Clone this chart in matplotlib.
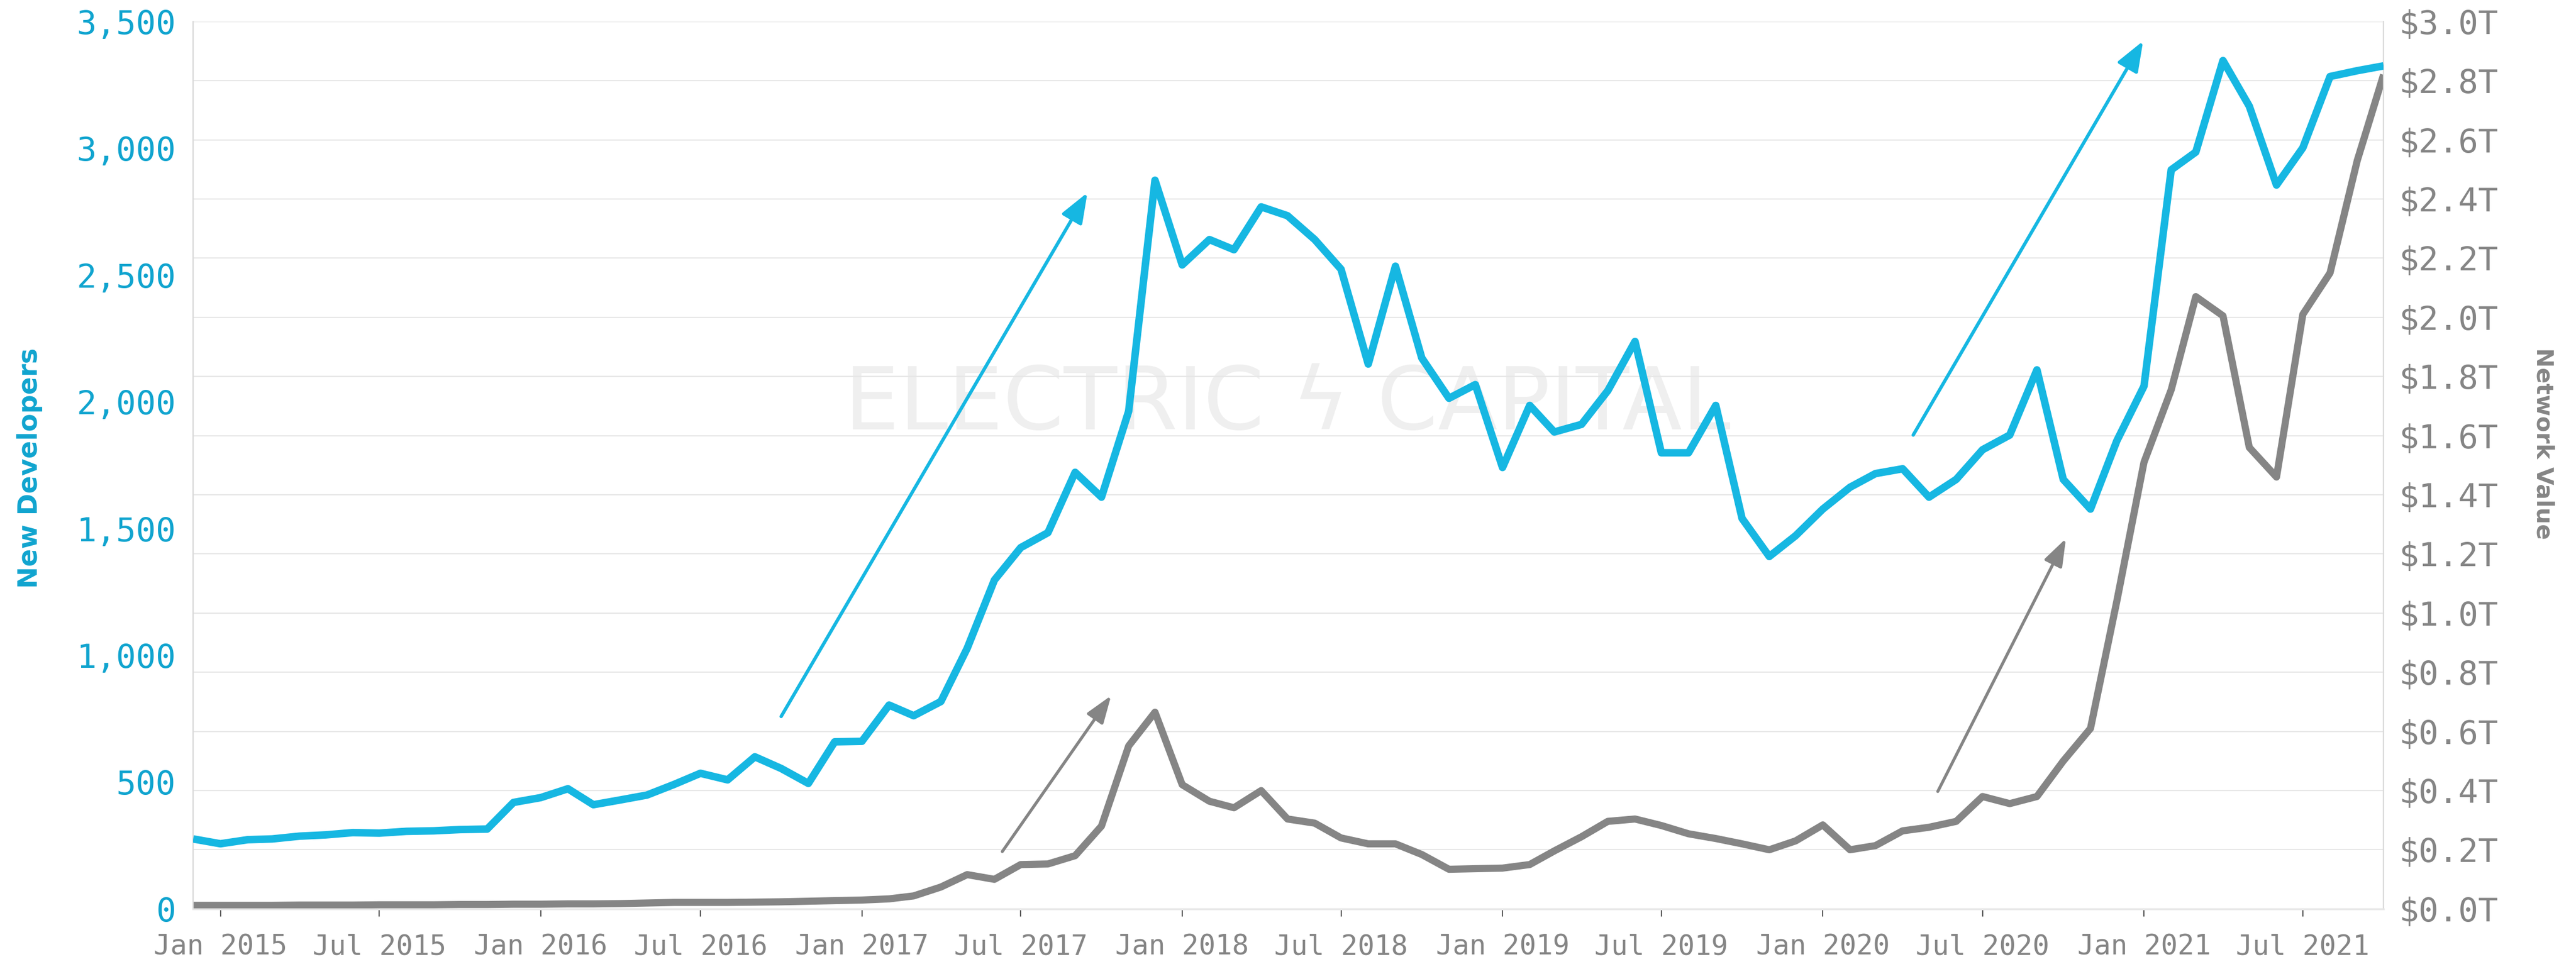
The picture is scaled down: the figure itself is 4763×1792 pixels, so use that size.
import matplotlib

matplotlib.use("Agg")

import pandas as pd
import matplotlib.pyplot as plt
import matplotlib.dates as mdates
from matplotlib.ticker import FuncFormatter, MultipleLocator


# monthly points, Dec 2014 .. Oct 2021
MONTHS = pd.date_range("2014-12-01", "2021-10-01", freq="MS")

NEW_DEVELOPERS = [
    276, 257, 273, 276, 287, 292, 301, 299, 306, 308, 313, 315,
    420, 439, 474, 411, 430, 449, 491, 535, 509, 600, 554, 495,
    659, 661, 804, 762, 818, 1028, 1297, 1425, 1484, 1722, 1624, 1963,
    2874, 2540, 2640, 2600, 2769, 2734, 2640, 2523, 2149, 2535, 2173, 2014,
    2068, 1741, 1986, 1881, 1911, 2044, 2238, 1799, 1799, 1986, 1540, 1390,
    1472, 1577, 1663, 1717, 1736, 1624, 1694, 1811, 1869, 2126, 1694, 1577,
    1846, 2062, 2915, 2985, 3346, 3166, 2855, 3002, 3283, 3306, 3325,
]

# trillions of USD
NETWORK_VALUE = [
    0.012, 0.012, 0.012, 0.012, 0.013, 0.013, 0.013, 0.014, 0.014, 0.014, 0.015, 0.015,
    0.016, 0.016, 0.017, 0.017, 0.018, 0.020, 0.022, 0.022, 0.022, 0.023, 0.024, 0.026,
    0.028, 0.030, 0.034, 0.044, 0.074, 0.116, 0.100, 0.150, 0.152, 0.180, 0.280, 0.551,
    0.665, 0.420, 0.364, 0.342, 0.400, 0.304, 0.290, 0.240, 0.220, 0.220, 0.184, 0.134,
    0.136, 0.138, 0.150, 0.196, 0.244, 0.296, 0.304, 0.282, 0.254, 0.238, 0.220, 0.200,
    0.230, 0.284, 0.200, 0.214, 0.264, 0.276, 0.296, 0.380, 0.356, 0.380, 0.500, 0.610,
    1.040, 1.510, 1.755, 2.070, 2.005, 1.560, 1.460, 2.010, 2.150, 2.530, 2.820,
]

# trend arrows: (tail date, tail value, tip date, tip value)
DEV_ARROWS = [
    ("2016-10-01", 759, "2017-09-15", 2825),
    ("2020-04-13", 1869, "2020-12-31", 3423),
]
VALUE_ARROWS = [
    ("2017-06-10", 0.194, "2017-10-12", 0.721),
    ("2020-05-11", 0.397, "2020-10-04", 1.252),
]

BLUE = "#16b7e2"
BLUE_TEXT = "#10a4cf"
GREY = "#858585"
MONO = "DejaVu Sans Mono"

fig = plt.figure(figsize=(47.63, 17.92), dpi=100)
ax = fig.add_axes([0.075, 0.062, 0.8503, 0.9158])  # network value (right ticks)
ax2 = ax.twinx()  # new developers (left ticks)
ax2.yaxis.tick_left()
ax2.yaxis.set_label_position("left")
ax.yaxis.tick_right()

# watermark
ax.text(0.4997, 0.5815, "ELECTRIC ϟ CAPITAL", transform=fig.transFigure,
        ha="center", va="center", fontsize=116, color="#efefef", zorder=0)

ax.plot(MONTHS, NETWORK_VALUE, color=GREY, lw=9.5, solid_joinstyle="round",
        solid_capstyle="butt", zorder=3)
ax2.plot(MONTHS, NEW_DEVELOPERS, color=BLUE, lw=10, solid_joinstyle="round",
         solid_capstyle="butt", zorder=3)

for x0, y0, x1, y1 in DEV_ARROWS:
    ax2.annotate("", xy=(pd.Timestamp(x1), y1), xytext=(pd.Timestamp(x0), y0),
                 arrowprops=dict(arrowstyle="-|>,head_length=3.4,head_width=1.3",
                                 color=BLUE, lw=4.5, shrinkA=0, shrinkB=0))
for x0, y0, x1, y1 in VALUE_ARROWS:
    ax.annotate("", xy=(pd.Timestamp(x1), y1), xytext=(pd.Timestamp(x0), y0),
                arrowprops=dict(arrowstyle="-|>,head_length=3.1,head_width=1.1",
                                color=GREY, lw=4.0, shrinkA=0, shrinkB=0))

ax.set_xlim(MONTHS[0], MONTHS[-1])
ax.set_ylim(0, 3.0)
ax2.set_ylim(0, 3500)

ax.yaxis.set_major_locator(MultipleLocator(0.2))
ax.yaxis.set_major_formatter(FuncFormatter(lambda v, _: f"${v:.1f}T"))
ax2.yaxis.set_major_locator(MultipleLocator(500))
ax2.yaxis.set_major_formatter(FuncFormatter(lambda v, _: f"{v:,.0f}"))

ax.xaxis.set_major_locator(mdates.MonthLocator(bymonth=[1, 7]))
ax.xaxis.set_major_formatter(mdates.DateFormatter("%b %Y"))

ax.grid(axis="y", color="#e6e6e6", lw=1.6)
ax.grid(axis="x", visible=False)
ax.set_axisbelow(True)

ax.tick_params(axis="x", length=10, width=1.6, color="#555555", pad=23,
               labelsize=37, labelcolor=GREY)
ax.tick_params(axis="y", length=0, pad=20, labelsize=44, labelcolor=GREY)
ax2.tick_params(axis="y", length=0, pad=23, labelsize=44, labelcolor=BLUE_TEXT)
for lab in ax.get_xticklabels() + ax.get_yticklabels() + ax2.get_yticklabels():
    lab.set_fontfamily(MONO)

for a in (ax, ax2):
    a.spines["top"].set_visible(False)
    for side in ("left", "right"):
        a.spines[side].set_color("#d9d9d9")
        a.spines[side].set_linewidth(1.6)
    a.spines["bottom"].set_color("#e8e8e8")
    a.spines["bottom"].set_linewidth(2.4)

fig.text(0.0115, 0.5167, "New Developers", rotation=90, ha="center", va="center",
         fontsize=35, fontweight="bold", color=BLUE_TEXT)
fig.text(0.9872, 0.5424, "Network Value", rotation=-90, ha="center", va="center",
         fontsize=31, fontweight="bold", color=GREY)

fig.savefig("out.png", dpi=100)
plt.close(fig)
